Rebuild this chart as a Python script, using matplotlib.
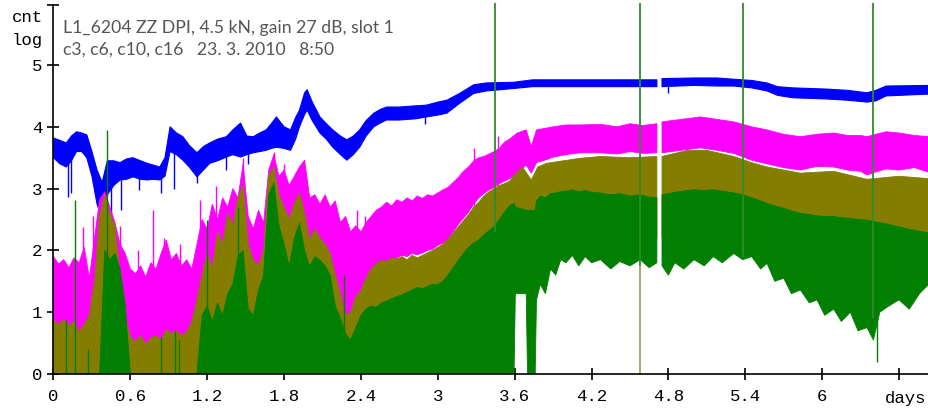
import numpy as np
import matplotlib
matplotlib.use("Agg")
import matplotlib.pyplot as plt

nan = np.nan

# readings of the noisy left part (0 .. 3.56 days), one every 0.04 day
grid_day = list(np.round(np.arange(0, 3.57, 0.04), 2))

c6_hi_left = [1.90, 1.78, 1.85, 1.72, 1.88, 1.80, 2.05, 1.55, 2.20, 2.82, 2.95, 2.70, 2.45, 2.10,
              1.95, 1.70, 1.62, 1.75, 1.57, 1.80, 1.70, 1.95, 2.17, 1.85, 1.95, 1.75, 1.85, 1.70,
              2.10, 2.50, 2.35, 2.75, 2.50, 2.85, 2.70, 3.00, 2.85, 3.40, 2.55, 2.35, 2.65, 2.45,
              3.30, 3.55, 3.20, 3.30, 3.05, 3.20, 3.35, 3.46, 2.85, 2.90, 2.75, 2.90, 2.70, 2.80,
              2.45, 2.55, 2.30, 2.40, 2.30, 2.45, 2.55, 2.65, 2.70, 2.78, 2.72, 2.82, 2.78, 2.85,
              2.80, 2.88, 2.84, 2.90, 2.88, 2.93, 2.98, 3.02, 3.10, 3.18, 3.28, 3.35, 3.45, 3.50,
              3.52, 3.56, 3.60, 3.65, 3.75, 3.80]
c6_lo_left = [0] * 67 + [1.88, 1.92, 1.90, 1.95, 1.93, 1.96, 2.00, 2.02, 2.08, 2.12, 2.18,
                         2.30, 2.42, 2.52, 2.62, 2.75, 2.85, 2.92, 2.98, 3.02, 3.08, 3.12, 3.16]
c10_hi_left = [0.87, 0.80, 0.88, 0.78, 0.85, 0.68, 0.80, 0.95, 1.50, 2.55, 2.90, 2.60, 2.40, 1.60,
               0.90, 0.60, 0.52, 0.62, 0.48, 0.58, 0.62, 0.55, 0.72, 0.65, 0.70, 0.62, 0.68, 0.85,
               1.20, 1.60, 1.95, 1.70, 2.30, 2.10, 2.60, 2.40, 2.85, 3.05, 2.10, 1.85, 1.75, 2.00,
               3.20, 3.35, 2.90, 2.70, 2.50, 2.75, 2.93, 2.60, 2.17, 2.35, 2.20, 2.10, 1.95, 1.60,
               1.30, 0.95, 1.00, 1.25, 1.35, 1.55, 1.70, 1.78, 1.84, 1.82, 1.88, 1.86, 1.90, 1.85,
               1.92, 1.88, 1.92, 1.96, 2.00, 2.05, 2.10, 2.18, 2.28, 2.38, 2.48, 2.58, 2.70, 2.78,
               2.88, 2.95, 3.00, 3.05, 3.08, 3.12]
c16_hi_left = [0, 0, 0, 0, 0, 0, 0, 0, 0, 0, 2.00, 1.85, 1.95, 1.70,
               1.10, 0, 0, 0, 0, 0, 0, 0, 0, 0, 0, 0, 0, 0,
               0, 0.95, 1.10, 0.85, 1.15, 0.95, 1.30, 1.45, 1.90, 2.00, 1.05, 0.95, 1.35, 1.60,
               2.90, 3.09, 2.40, 2.10, 1.74, 2.20, 2.44, 2.00, 1.74, 1.90, 1.84, 1.75, 1.60, 1.10,
               0.90, 0.65, 0.55, 0.75, 0.95, 1.05, 1.10, 1.08, 1.15, 1.18, 1.22, 1.25, 1.28, 1.32,
               1.36, 1.40, 1.38, 1.42, 1.45, 1.45, 1.50, 1.60, 1.72, 1.84, 1.95, 2.05, 2.12, 2.17,
               2.25, 2.32, 2.38, 2.50, 2.62, 2.72]

# readings of the right part (3.6 .. 6.84 days), nan marks the data gap
c6_day_right = [3.62, 3.69, 3.73, 3.77, 3.85, 3.90, 4.00, 4.11, 4.27, 4.40, 4.50, 4.60, 4.71, 4.73,
                4.75, 4.90, 5.05, 5.18, 5.31, 5.45, 5.57, 5.70, 5.83, 5.96, 6.09, 6.20, 6.30,
                6.35, 6.42, 6.50, 6.60, 6.72, 6.84]
c6_lo_right = [3.25, 3.38, 3.25, 3.42, 3.47, 3.51, 3.55, 3.58, 3.58, 3.56, 3.60, 3.57, 3.58, nan,
               3.58, 3.62, 3.66, 3.62, 3.57, 3.46, 3.40, 3.34, 3.30, 3.36, 3.35, 3.30, 3.28,
               3.22, 3.27, 3.32, 3.30, 3.34, 3.26]
c6_hi_right = [3.90, 3.95, 3.68, 3.95, 3.98, 4.00, 4.03, 4.03, 4.04, 4.00, 4.05, 4.02, 4.05, nan,
               4.08, 4.12, 4.16, 4.12, 4.08, 4.00, 3.95, 3.88, 3.84, 3.88, 3.90, 3.86, 3.86,
               3.84, 3.88, 3.92, 3.90, 3.86, 3.84]

c10_day_right = [3.59, 3.66, 3.73, 3.78, 3.85, 4.11, 4.27, 4.50, 4.71, 4.73, 4.75, 4.95, 5.10, 5.31,
                 5.45, 5.57, 5.83, 6.09, 6.35, 6.60, 6.84]
c10_lo_right = [2.0, 2.0, 2.0, 2.0, 2.0, 2.2, 2.2, 2.2, 2.2, nan, 2.2, 2.2, 2.2, 2.2,
                2.2, 2.2, 2.2, 2.2, 2.0, 2.0, 2.0]
c10_hi_right = [3.20, 3.35, 3.14, 3.35, 3.41, 3.49, 3.52, 3.50, 3.52, nan, 3.52, 3.62, 3.62, 3.52,
                3.42, 3.35, 3.25, 3.28, 3.15, 3.20, 3.16]

c16_day_right = [3.595, 3.605, 3.69, 3.70, 3.76, 3.77, 3.80, 3.84, 3.88, 3.92, 3.96, 4.00, 4.05,
                 4.10, 4.15, 4.20, 4.27, 4.35, 4.42, 4.50, 4.58, 4.65, 4.71, 4.73, 4.75, 4.80,
                 4.85, 4.92, 5.00, 5.08, 5.15, 5.22, 5.31, 5.38, 5.45, 5.52, 5.57, 5.63, 5.70,
                 5.76, 5.83, 5.90, 5.96, 6.02, 6.09, 6.15, 6.22, 6.28, 6.35, 6.40, 6.45, 6.52,
                 6.60, 6.68, 6.76, 6.84]
c16_lo_right = [0, 1.30, 1.30, 0, 0, 1.20, 1.45, 1.30, 1.70, 1.60, 1.85, 1.80, 1.92,
                1.75, 1.90, 1.80, 1.85, 1.70, 1.82, 1.75, 1.85, 1.72, 1.80, nan, 1.75, 1.60,
                1.80, 1.70, 1.85, 1.75, 1.90, 1.80, 1.95, 1.85, 1.90, 1.70, 1.79, 1.50, 1.55,
                1.30, 1.36, 1.15, 1.20, 0.95, 1.05, 0.85, 1.00, 0.70, 0.75, 0.55, 1.00, 1.10,
                1.20, 1.05, 1.30, 1.47]
c16_hi_right = [2.76, 2.70, 2.65, 2.65, 2.65, 2.80, 2.88, 2.85, 2.92, 2.93, 2.95, 2.96, 2.98,
                2.95, 2.97, 2.94, 2.93, 2.90, 2.92, 2.88, 2.90, 2.86, 2.85, nan, 2.90, 2.92,
                2.94, 2.96, 2.98, 2.97, 2.98, 2.96, 2.93, 2.90, 2.85, 2.80, 2.76, 2.72, 2.68,
                2.64, 2.60, 2.58, 2.56, 2.55, 2.55, 2.53, 2.52, 2.50, 2.49, 2.47, 2.45, 2.42,
                2.38, 2.34, 2.31, 2.28]

# c3 (blue) trace: day, low, high
c3_day = [0.00, 0.05, 0.10, 0.14, 0.18, 0.22, 0.26, 0.30, 0.34, 0.38, 0.42, 0.47, 0.52, 0.57,
          0.62, 0.68, 0.73, 0.78, 0.83, 0.87, 0.91, 0.96, 1.01, 1.06, 1.12, 1.17, 1.22, 1.28,
          1.35, 1.40, 1.46, 1.51, 1.56, 1.61, 1.66, 1.70, 1.74, 1.80, 1.85, 1.89, 1.92, 1.96,
          1.98, 2.02, 2.08, 2.13, 2.18, 2.24, 2.29, 2.34, 2.39, 2.44, 2.50, 2.55, 2.60, 2.70,
          2.83, 2.91, 3.00, 3.07, 3.17, 3.28, 3.38, 3.59, 3.74, 4.00, 4.27, 4.50, 4.71, 4.73,
          4.75, 5.00, 5.18, 5.31, 5.45, 5.57, 5.65, 5.77, 6.04, 6.20, 6.35, 6.42, 6.50, 6.84]
c3_lo = [3.50, 3.40, 3.35, 3.45, 3.60, 3.60, 3.50, 3.20, 2.75, 2.50, 2.90, 3.05, 3.14, 3.15,
         3.19, 3.15, 3.14, 3.15, 3.14, 3.20, 3.60, 3.55, 3.46, 3.35, 3.19, 3.30, 3.41, 3.45,
         3.51, 3.55, 3.51, 3.55, 3.58, 3.60, 3.62, 3.65, 3.67, 3.65, 3.62, 3.80, 4.00, 4.20,
         4.27, 4.10, 3.90, 3.80, 3.67, 3.55, 3.46, 3.55, 3.67, 3.85, 4.00, 4.06, 4.11, 4.11,
         4.13, 4.16, 4.19, 4.22, 4.38, 4.54, 4.58, 4.62, 4.65, 4.65, 4.65, 4.65, 4.65, nan,
         4.65, 4.67, 4.66, 4.66, 4.63, 4.58, 4.51, 4.47, 4.45, 4.43, 4.40, 4.42, 4.50, 4.53]
c3_hi = [3.82, 3.78, 3.74, 3.85, 3.92, 3.90, 3.87, 3.60, 3.30, 3.10, 3.45, 3.45, 3.42, 3.48,
         3.50, 3.45, 3.41, 3.38, 3.35, 3.50, 4.00, 3.90, 3.84, 3.70, 3.58, 3.68, 3.74, 3.80,
         3.84, 3.95, 4.06, 3.85, 3.84, 3.90, 3.95, 4.05, 4.16, 4.00, 3.95, 4.15, 4.27, 4.55,
         4.60, 4.40, 4.16, 4.05, 3.95, 3.85, 3.79, 3.85, 3.95, 4.10, 4.22, 4.28, 4.32, 4.32,
         4.34, 4.35, 4.40, 4.43, 4.54, 4.68, 4.71, 4.72, 4.76, 4.76, 4.76, 4.76, 4.76, nan,
         4.78, 4.79, 4.79, 4.77, 4.75, 4.71, 4.65, 4.63, 4.61, 4.59, 4.55, 4.59, 4.66, 4.67]

# isolated spikes
c3_spike_day = [0.11, 0.14, 0.45, 0.53, 0.67, 0.84, 0.94, 1.12, 1.35, 1.52, 2.90, 4.80]
c3_spike_lo = [2.87, 2.93, 2.38, 2.65, 2.98, 2.93, 3.00, 3.09, 3.30, 3.40, 4.05, 4.55]
c3_spike_hi = [3.6, 3.6, 3.2, 3.3, 3.3, 3.3, 3.6, 3.4, 3.6, 3.8, 4.3, 4.7]
c6_spike_day = [0.23, 0.31, 0.52, 0.66, 0.78, 0.86, 0.99, 1.14, 1.27, 1.48, 1.72, 1.80,
                2.37, 2.43, 3.28, 3.47]
c6_spike_hi = [2.38, 2.55, 2.40, 2.00, 2.65, 2.20, 2.10, 2.82, 3.05, 3.50, 3.60, 3.40,
               2.65, 2.55, 3.65, 3.85]
c16_spike_day = [0.10, 0.17, 0.27, 0.42, 0.84, 0.95, 0.98, 1.20, 1.44, 2.27, 6.43]
c16_spike_lo = [0, 0, 0, 0, 0, 0, 0, 0, 0, 0, 0.2]
c16_spike_hi = [0.87, 2.82, 0.40, 3.95, 0.60, 0.70, 0.55, 2.50, 2.70, 1.60, 1.0]

# vertical marker lines: day, bottom
mark_day = [3.45, 4.575, 5.38, 6.40]
mark_bottom = [2.3, 1.75, 1.9, 0.9]

c6_day = grid_day + c6_day_right
c6_lo = c6_lo_left + c6_lo_right
c6_hi = c6_hi_left + c6_hi_right
c10_day = grid_day + c10_day_right
c10_lo = [0] * len(grid_day) + c10_lo_right
c10_hi = c10_hi_left + c10_hi_right
c16_day = grid_day + c16_day_right
c16_lo = [0] * len(grid_day) + c16_lo_right
c16_hi = c16_hi_left + c16_hi_right

fig = plt.figure(figsize=(9.29, 4.08), dpi=100)
ax = fig.add_axes([53.5 / 929, 34 / 408, 1 - 53.5 / 929, 374 / 408])

blue, magenta, olive, green = "#0000ff", "#ff00ff", "#857d00", "#007f00"

ax.fill_between(c3_day, c3_lo, c3_hi, color=blue, lw=0.8, ec=blue, zorder=2)
ax.vlines(c3_spike_day, c3_spike_lo, c3_spike_hi, color=blue, lw=1, zorder=2)
ax.fill_between(c6_day, c6_lo, c6_hi, color=magenta, lw=0.6, ec=magenta, zorder=3)
ax.vlines(c6_spike_day, 1.0, c6_spike_hi, color=magenta, lw=1, zorder=3)
ax.fill_between(c10_day, c10_lo, c10_hi, color=olive, lw=0.6, ec=olive, zorder=4)
ax.fill_between(c16_day, c16_lo, c16_hi, color=green, lw=0.6, ec=green, zorder=5)
ax.vlines(c16_spike_day, c16_spike_lo, c16_spike_hi, color=green, lw=1, zorder=5)

# marker lines
for d, b in zip(mark_day, mark_bottom):
    ax.vlines(d, b, 6.0, color="#2e8b2e", lw=1.3, zorder=6)
ax.vlines(mark_day[1], 0, mark_bottom[1], color="#a8a060", lw=1.3, zorder=6)

ax.set_xlim(0, 6.834)
ax.set_ylim(0, 6.052)

ax.spines["top"].set_visible(False)
ax.spines["right"].set_visible(False)
ax.spines["left"].set_bounds(0, 5.97)
for s in ("left", "bottom"):
    ax.spines[s].set_linewidth(1.2)
    ax.spines[s].set_zorder(7)

mono = "Liberation Mono"
xt = [0, 0.6, 1.2, 1.8, 2.4, 3, 3.6, 4.2, 4.8, 5.4, 6, 6.6]
xl = ["0", "0.6", "1.2", "1.8", "2.4", "3", "3.6", "4.2", "4.8", "5.4", "6", ""]
ax.set_xticks(xt)
ax.set_xticklabels(xl, family=mono, fontsize=12.5)
yt = [0, 1, 2, 3, 4, 5, 5.97]
ax.set_yticks(yt)
ax.set_yticklabels(["0", "1", "2", "3", "4", "5", ""], family=mono, fontsize=12.5)
ax.tick_params(direction="inout", length=8, width=1.2, pad=4)
ax.tick_params(axis="x", pad=7)

fig.text(885 / 929, 1 - 398 / 408, "days", family=mono, fontsize=12.5, va="center", ha="left")
fig.text(12 / 929, 1 - 18 / 408, "cnt", family=mono, fontsize=12.5, va="center", ha="left")
fig.text(12 / 929, 1 - 41 / 408, "log", family=mono, fontsize=12.5, va="center", ha="left")

fig.text(63 / 929, 1 - 28 / 408, "L1_6204 ZZ DPI, 4.5 kN, gain 27 dB, slot 1",
         family="Lato", fontsize=12.7, color="#555555", va="center", ha="left")
fig.text(63 / 929, 1 - 50 / 408, "c3, c6, c10, c16   23. 3. 2010   8:50",
         family="Lato", fontsize=12.7, color="#555555", va="center", ha="left")

fig.savefig("out.png", dpi=100)
